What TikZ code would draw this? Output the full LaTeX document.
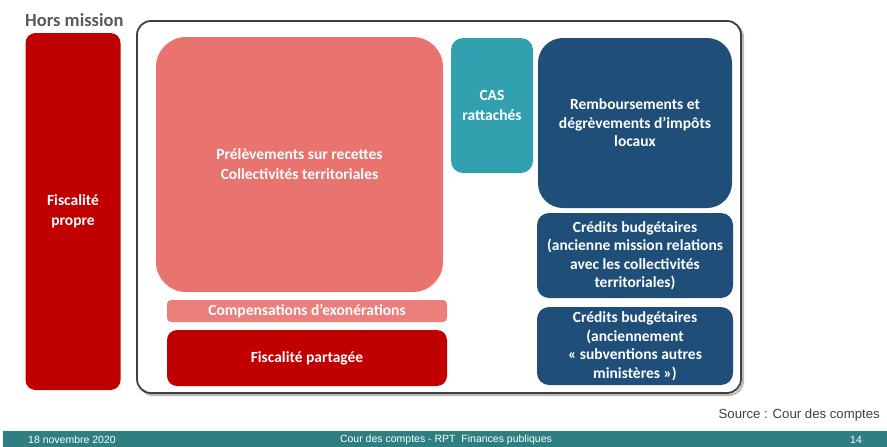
\documentclass[tikz,border=0pt]{standalone}
\usepackage{fontspec}
\setmainfont{Carlito}
\newfontfamily\footfont{Liberation Sans}
\usetikzlibrary{positioning}
\definecolor{fred}{HTML}{C00000}
\definecolor{salmon}{HTML}{E8736F}
\definecolor{salmonlt}{HTML}{EC7F7B}
\definecolor{casteal}{HTML}{31A0AF}
\definecolor{dblue}{HTML}{1F4E79}
\definecolor{footteal}{HTML}{2E7F82}
\definecolor{framegray}{HTML}{404040}
\definecolor{txtgray}{HTML}{595959}
\tikzset{
  box/.style={rounded corners=#1, inner sep=0pt, align=center, text=white,
    font=\fontsize{15.5}{18.5}\selectfont\bfseries},
  foottxt/.style={text=white, inner sep=0pt, font=\footfont\fontsize{10.5}{11}\selectfont}
}
\begin{document}
\begin{tikzpicture}[x=1pt,y=-1pt]
\useasboundingbox (0,0) rectangle (887,447);
% outer frame with shadow
\draw[line width=2pt, gray!55, rounded corners=14pt] (139,23) rectangle (743,395);
\draw[line width=1.8pt, framegray, fill=white, rounded corners=14pt] (137,21) rectangle (741,393);
\node[anchor=west, inner sep=0pt, text=txtgray, font=\fontsize{18.5}{19}\selectfont\bfseries] (hm) at (25,20) {Hors mission};
\node[box=10pt, fill=fred, minimum width=95pt, minimum height=357pt, font=\fontsize{15.5}{20}\selectfont\bfseries] (fp) at (73,211.5) {Fiscalité\\propre};
\node[box=30pt, fill=salmon, minimum width=287pt, minimum height=255pt, font=\fontsize{15.5}{20}\selectfont\bfseries] (prel) at (299.5,164.5) {Prélèvements sur recettes\\Collectivités territoriales};
\node[box=12pt, fill=casteal, minimum width=82pt, minimum height=135pt, font=\fontsize{15.5}{20}\selectfont\bfseries] (cas) at (492,105.5) {CAS\\rattachés};
\node[box=25pt, fill=dblue, minimum width=194pt, minimum height=170pt] (remb) at (635,123) {Remboursements et\\dégrèvements d’impôts\\locaux};
\node[box=12pt, fill=dblue, minimum width=196pt, minimum height=85pt] (cb1) at (635,255.5) {Crédits budgétaires\\(ancienne mission relations\\avec les collectivités\\territoriales)};
\node[box=12pt, fill=dblue, minimum width=196pt, minimum height=78pt] (cb2) at (635,346) {Crédits budgétaires\\(anciennement\\« subventions autres\\ministères »)};
\node[box=4pt, fill=salmonlt, minimum width=280pt, minimum height=22pt] (comp) at (307,311) {Compensations d’exonérations};
\node[box=10pt, fill=fred, minimum width=280pt, minimum height=56pt] (fpart) at (307,358) {Fiscalité partagée};
% source
\node[anchor=east, inner sep=0pt, text=black!75, font=\footfont\fontsize{13.2}{14}\selectfont] (src) at (880,415) {Source : Cour des comptes};
% footer
\fill[footteal] (3,431) rectangle (887,447);
\node[foottxt, anchor=west] (date) at (28,440) {18 novembre 2020};
\node[foottxt] (ftitle) at (446,440) {Cour des comptes - RPT\ \ Finances publiques};
\node[foottxt] (page) at (856,440) {14};
\end{tikzpicture}
\end{document}
